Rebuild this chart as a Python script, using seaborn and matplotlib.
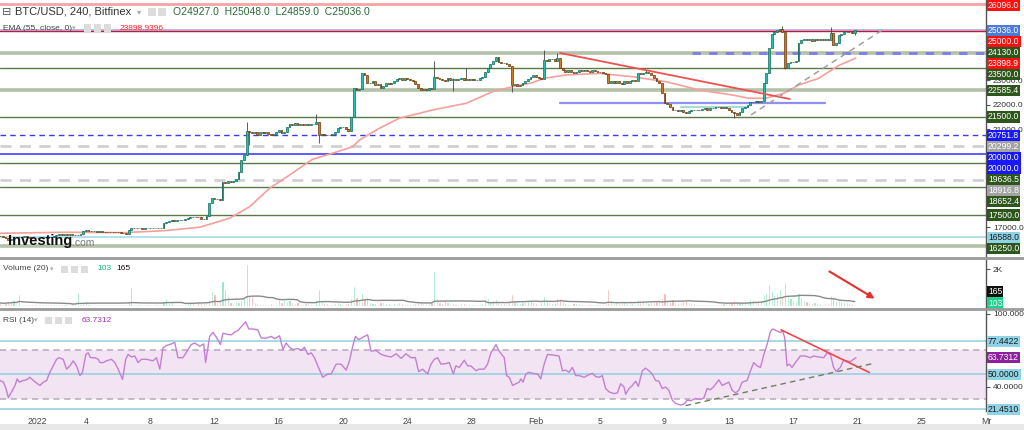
import numpy as np
import pandas as pd
import matplotlib
matplotlib.use("Agg")
import matplotlib.pyplot as plt
from matplotlib.patches import Rectangle, FancyArrowPatch
from matplotlib.lines import Line2D
from matplotlib.transforms import blended_transform_factory
import seaborn as sns

# ============================ DATA ============================
# x axis = days relative to 1 Jan (4-hour candles)
first_candle_day = -2.3333          # Dec 29, 16:00
first_open = 16650.0

closes = [
    16640, 16610,                                   # Dec 29
    16560, 16480, 16540, 16600, 16620, 16600,       # Dec 30
    16610, 16630, 16600, 16580, 16560, 16550,       # Dec 31
    16560, 16580, 16600, 16610, 16600, 16620,       # Jan 1
    16650, 16690, 16710, 16690, 16720, 16700,       # Jan 2
    16710, 16690, 16680, 16700, 16720, 16860,       # Jan 3
    16870, 16850, 16830, 16840, 16820, 16830,       # Jan 4
    16820, 16810, 16800, 16790, 16810, 16800,       # Jan 5
    16790, 16770, 16750, 16740, 16900, 16950,       # Jan 6
    16960, 16950, 16960, 16940, 16950, 16960,       # Jan 7
    16950, 16960, 16970, 16950, 16980, 17160,       # Jan 8
    17200, 17250, 17280, 17260, 17300, 17280,       # Jan 9
    17290, 17320, 17360, 17400, 17430, 17420,       # Jan 10
    17400, 17350, 17340, 17450, 17980, 18180,       # Jan 11
    18150, 18170, 18100, 18835, 18800, 18880,       # Jan 12
    18850, 18900, 18950, 19270, 19750, 19950,       # Jan 13
    20940, 20900, 20850, 20880, 20750, 20870,       # Jan 14
    20850, 20900, 20800, 20750, 20820, 20900,       # Jan 15
    20950, 20850, 20900, 21100, 21200, 21180,       # Jan 16
    21240, 21170, 21200, 21180, 21220, 21190,       # Jan 17
    21210, 21230, 21300, 20765, 20800, 20750,       # Jan 18
    20780, 20760, 20800, 20900, 21040, 21080,       # Jan 19
    21080, 21000, 20940, 21490, 22670, 22600,       # Jan 20
    22650, 23280, 23200, 22875, 22900, 22950,       # Jan 21
    22800, 22850, 22700, 22750, 22900, 22850,       # Jan 22
    22900, 22950, 23050, 23080, 23000, 23100,       # Jan 23
    23050, 23000, 22950, 22850, 22700, 22600,       # Jan 24
    22650, 22600, 22700, 22650, 23145, 23100,       # Jan 25
    23050, 23000, 22950, 23100, 23000, 23050,       # Jan 26
    23000, 23050, 23100, 23000, 23050, 23010,       # Jan 27
    23050, 23000, 23020, 23080, 23150, 23350,       # Jan 28
    23500, 23650, 23800, 23940, 23750, 23690,       # Jan 29
    23700, 23650, 23600, 22805, 22850, 22750,       # Jan 30
    22800, 22900, 22950, 23050, 23150, 23200,       # Jan 31
    23150, 23100, 23050, 23830, 23800, 23850,       # Feb 1
    23850, 23800, 23900, 23490, 23400, 23350,       # Feb 2
    23400, 23350, 23300, 23350, 23400, 23380,       # Feb 3
    23400, 23380, 23350, 23400, 23380, 23350,       # Feb 4
    23350, 23300, 23250, 22875, 22950, 22900,       # Feb 5
    22950, 22900, 22850, 22950, 22900, 22980,       # Feb 6
    23000, 22950, 23280, 23250, 23300, 23350,       # Feb 7
    23300, 23200, 23100, 22950, 22875, 22470,       # Feb 8
    22060, 22050, 21900, 21785, 21800, 21750,       # Feb 9
    21780, 21700, 21650, 21750, 21800, 21780,       # Feb 10
    21800, 21780, 21820, 21850, 21800, 21850,       # Feb 11
    21880, 21920, 21900, 21850, 21900, 21880,       # Feb 12
    21800, 21700, 21650, 21600, 21700, 21855,       # Feb 13
    21900, 22000, 22125, 22100, 22150, 22125,       # Feb 14
    22150, 22875, 23280, 24305, 24900, 24950,       # Feb 15
    25050, 25090, 24980, 23490, 23700, 23755,       # Feb 16
    23750, 23800, 24500, 24640, 24700, 24650,       # Feb 17
    24670, 24600, 24700, 24650, 24680, 24640,       # Feb 18
    24700, 24650, 24940, 24440, 24500, 24845,       # Feb 19
    24900, 24950, 24980, 24950, 24927, 25036,       # Feb 20
]

# notable wicks (candle index, low, high)
wick_index = [92, 93, 118, 119, 162, 169, 174, 191, 203, 208, 241, 274, 292, 293, 310, 319]
wick_low = [19950, 20360, 21210, 20450, 22650, 22570, 23000, 22530, 23050, 23850, 23300, 21450, 24980, 23450, 24650, 24859]
wick_high = [21310, 20940, 21620, 21300, 23800, 23100, 23490, 23600, 24235, 24100, 23420, 21700, 25215, 24980, 25185, 25048]

volumes = [
    150, 120,
    150, 200, 180, 310, 120, 630,
    120, 100, 90, 110, 80, 90,
    60, 70, 80, 90, 100, 80,
    120, 100, 90, 110, 100, 80,
    100, 110, 90, 740, 120, 150,
    280, 120, 100, 110, 90, 100,
    90, 80, 100, 120, 90, 80,
    100, 120, 90, 110, 300, 1050,
    100, 80, 70, 60, 80, 90,
    70, 60, 80, 90, 100, 250,
    400, 150, 270, 120, 100, 90,
    100, 120, 150, 130, 200, 120,
    270, 150, 130, 200, 350, 800,
    630, 200, 250, 1350, 920, 560,
    180, 150, 250, 200, 300, 500,
    2290, 560, 530, 200, 150, 120,
    100, 90, 120, 150, 100, 90,
    380, 200, 300, 250, 300, 200,
    150, 200, 120, 100, 150, 130,
    120, 100, 300, 900, 250, 150,
    130, 120, 100, 150, 200, 150,
    120, 150, 130, 400, 1100, 500,
    300, 700, 400, 500, 200, 150,
    150, 120, 200, 180, 150, 130,
    120, 150, 140, 200, 130, 120,
    100, 120, 130, 150, 200, 250,
    150, 120, 130, 200, 1900, 400,
    200, 150, 300, 200, 150, 130,
    120, 100, 150, 130, 120, 100,
    100, 90, 80, 100, 150, 300,
    400, 250, 300, 350, 200, 150,
    150, 120, 200, 650, 300, 200,
    150, 200, 180, 250, 300, 200,
    150, 120, 200, 550, 300, 200,
    150, 200, 450, 400, 250, 150,
    120, 100, 150, 130, 150, 120,
    100, 90, 80, 100, 90, 80,
    90, 100, 150, 900, 300, 150,
    200, 150, 130, 200, 150, 120,
    150, 120, 300, 200, 250, 200,
    150, 200, 180, 250, 300, 400,
    700, 300, 250, 350, 200, 150,
    200, 250, 300, 200, 150, 130,
    100, 90, 80, 100, 90, 80,
    90, 100, 120, 100, 150, 130,
    150, 200, 300, 250, 200, 180,
    200, 250, 350, 300, 250, 200,
    250, 600, 700, 1200, 800, 600,
    700, 900, 500, 1300, 600, 400,
    300, 250, 700, 500, 300, 250,
    200, 150, 180, 150, 160, 120,
    150, 130, 600, 550, 250, 300,
    250, 200, 180, 160, 165, 103,
]

ema_points = [(-2.34, 16755), (1.76, 16796), (5.42, 16780), (7.91, 16862), (10.08, 17000),
              (11.95, 17370), (13.19, 17840), (14.43, 18590), (15.67, 19130), (17.09, 19770),
              (18.78, 20110), (19.60, 20290), (20.02, 20560), (21.26, 21040), (22.50, 21450),
              (23.75, 21650), (24.55, 21785), (26.67, 22060), (28.28, 22530), (29.52, 22735),
              (30.77, 22900), (31.51, 23080), (32.88, 23215), (34.93, 23280), (37.00, 23145),
              (39.10, 22940), (41.15, 22600), (43.20, 22400), (44.24, 22265), (45.30, 22265),
              (46.42, 22470), (47.35, 22805), (48.59, 23080), (49.83, 23600), (50.89, 23899)]

rsi_points = [
    (-2.34, 45.1), (-2.13, 43.7), (-1.97, 38.4), (-1.82, 31.1), (-1.62, 35.7), (-1.41, 41.0),
    (-1.27, 46.4), (-1.14, 43.7), (-0.89, 45.1), (-0.69, 45.6), (-0.48, 47.7), (-0.27, 45.1),
    (-0.06, 42.9), (0.14, 41.0), (0.35, 43.7), (0.56, 45.1), (0.76, 51.8), (0.97, 57.1),
    (1.18, 62.5), (1.34, 63.8), (1.59, 62.5), (1.80, 54.4), (2.01, 57.1), (2.21, 61.2),
    (2.42, 57.1), (2.63, 49.1), (2.79, 51.8), (3.00, 66.5), (3.14, 67.8), (3.29, 63.8),
    (3.56, 63.8), (3.77, 62.5), (3.87, 59.8), (4.08, 59.8), (4.28, 61.2), (4.59, 62.5),
    (4.80, 59.8), (5.01, 54.4), (5.28, 45.9), (5.48, 62.5), (5.63, 66.5), (5.84, 64.4),
    (6.04, 65.2), (6.25, 59.8), (6.46, 62.5), (6.77, 62.5), (7.18, 61.2), (7.39, 63.8),
    (7.60, 54.4), (7.80, 71.9), (8.01, 73.8), (8.32, 75.1), (8.53, 76.4), (8.73, 63.8),
    (9.04, 63.8), (9.36, 70.5), (9.56, 74.6), (9.77, 75.9), (10.08, 73.2), (10.33, 75.1),
    (10.45, 59.8), (10.70, 81.3), (10.91, 84.7), (11.12, 80.5), (11.37, 74.6), (11.53, 83.9),
    (11.74, 83.1), (12.05, 82.6), (12.25, 84.7), (12.46, 86.1), (12.67, 89.3), (12.94, 93.3),
    (13.14, 87.4), (13.39, 87.4), (13.70, 86.6), (13.91, 79.9), (14.22, 79.9), (14.53, 81.3),
    (14.74, 79.4), (15.05, 81.8), (15.26, 70.5), (15.46, 75.9), (15.67, 72.4), (15.88, 70.5),
    (16.19, 71.3), (16.40, 69.7), (16.60, 72.4), (16.81, 66.5), (17.02, 67.8), (17.22, 63.8),
    (17.43, 57.1), (17.74, 47.7), (18.05, 50.4), (18.26, 50.4), (18.57, 58.5), (18.88, 58.5),
    (19.19, 53.6), (19.40, 61.2), (19.60, 73.2), (19.77, 81.3), (19.98, 78.6), (20.22, 80.5),
    (20.53, 82.6), (20.74, 69.2), (21.05, 69.7), (21.37, 66.5), (21.68, 65.2), (21.99, 64.4),
    (22.30, 67.0), (22.61, 63.3), (22.92, 67.0), (23.23, 63.8), (23.50, 63.8), (23.70, 52.3),
    (23.95, 54.4), (24.26, 50.4), (24.47, 58.5), (24.68, 62.5), (24.88, 63.8), (25.09, 58.5),
    (25.40, 59.0), (25.61, 59.8), (25.86, 50.4), (26.02, 57.1), (26.23, 55.8), (26.54, 61.7),
    (26.75, 57.1), (26.95, 57.1), (27.27, 53.1), (27.47, 54.4), (27.78, 54.4), (27.99, 58.5),
    (28.20, 67.8), (28.34, 70.5), (28.51, 74.6), (28.71, 69.2), (29.03, 63.8), (29.17, 49.1),
    (29.34, 47.7), (29.55, 41.0), (29.75, 42.4), (29.96, 43.7), (30.06, 46.4), (30.20, 43.7),
    (30.37, 50.4), (30.54, 51.8), (30.78, 51.0), (31.10, 50.4), (31.30, 46.4), (31.51, 58.5),
    (31.72, 66.5), (32.03, 66.0), (32.44, 65.2), (32.65, 53.1), (32.86, 53.6), (33.06, 51.8),
    (33.27, 55.8), (33.48, 49.1), (33.68, 49.1), (34.00, 47.7), (34.31, 49.9), (34.51, 51.0),
    (34.72, 48.3), (34.93, 47.7), (35.13, 49.1), (35.34, 38.4), (35.55, 35.7), (35.86, 34.3),
    (36.07, 34.9), (36.27, 42.4), (36.48, 39.7), (36.58, 33.8), (36.79, 38.4), (37.00, 41.0),
    (37.20, 44.5), (37.37, 40.2), (37.62, 53.1), (37.82, 55.2), (38.03, 53.1), (38.24, 50.4),
    (38.44, 45.1), (38.65, 44.5), (38.86, 38.4), (39.07, 39.7), (39.27, 37.0), (39.48, 29.0),
    (39.69, 26.3), (40.00, 24.9), (40.20, 25.5), (40.41, 29.0), (40.62, 28.4), (40.93, 30.3),
    (41.24, 29.5), (41.45, 30.8), (41.65, 38.4), (41.86, 37.5), (42.07, 40.2), (42.38, 45.6),
    (42.59, 41.0), (42.79, 42.4), (43.00, 43.7), (43.21, 37.0), (43.42, 34.9), (43.62, 37.0),
    (43.83, 43.7), (44.14, 45.1), (44.35, 53.1), (44.55, 59.8), (44.76, 57.1), (44.97, 55.8),
    (45.18, 66.5), (45.38, 74.6), (45.59, 85.3), (45.73, 87.4), (46.00, 85.8), (46.21, 84.5),
    (46.35, 85.8), (46.48, 79.9), (46.62, 57.1), (46.77, 58.5), (46.93, 55.8), (47.14, 59.8),
    (47.45, 65.2), (47.76, 65.2), (48.07, 63.8), (48.28, 65.2), (48.59, 64.4), (48.91, 63.8),
    (49.11, 67.8), (49.32, 66.5), (49.52, 55.8), (49.67, 52.6), (49.94, 55.8), (50.14, 61.7),
    (50.35, 61.2), (50.56, 60.6), (50.76, 62.5), (50.91, 63.73),
]

# horizontal price levels drawn across the chart
hline_values = [26096.0, 25036.0, 25000.0, 24130.0, 23500.0, 22585.4, 21500.0, 20751.8,
                20299.2, 20000.0, 19636.5, 18916.8, 18652.4, 17500.0, 16588.0, 16250.0]
# price scale labels (coloured boxes)
scale_label_values = [26096.0, 25036.0, 25000.0, 24130.0, 23898.9, 23500.0, 22585.4, 21500.0,
                      20751.8, 20299.2, 20000.0, 20000.0, 19636.5, 18916.8, 18652.4, 17500.0,
                      16588.0, 16250.0]
# plain price-scale numbers that remain visible between the boxes
price_ticks = [23000, 22000, 21000, 17000]
price_tick_marks = [16000, 17000, 18000, 19000, 20000, 21000, 22000, 23000, 24000, 25000, 26000]

# drawn trend objects (day, price)
resistance_line = [(32.5, 24112), (46.79, 22235)]
support_line = [(44.37, 21582), (52.75, 25133)]
range_line = [(32.5, 22084), (49.0, 22084)]
base_line = [(40.0, 21890), (44.2, 21890)]
dashed_level_start = 40.7          # dashed blue 24130 line starts here

rsi_levels = [77.4422, 50.0, 21.4510]
rsi_ticks = [40, 100]
rsi_tick_marks = [20, 40, 60, 80, 100]
rsi_resistance = [(46.25, 86.7), (51.74, 51.7)]
rsi_support = [(40.31, 24.4), (52.07, 59.3)]

date_tick_days = [0, 3, 7, 11, 15, 19, 23, 27, 31, 35, 39, 43, 47, 51, 55, 59]
date_tick_labels = ["2022", "4", "8", "12", "16", "20", "24", "28", "Feb", "5", "9", "13",
                    "17", "21", "25", "Mr"]

ohlc_text = ["O24927.0", "H25048.0", "L24859.0", "C25036.0"]
ema_last = "23898.9396"
rsi_last = "63.7312"
vol_last, vol_ma_last = "103", "165"

# ============================ STYLE / LAYOUT ============================
sns.set_style("white")
plt.rcParams["font.family"] = ["Liberation Sans", "DejaVu Sans"]

W, H = 1024, 430
fig = plt.figure(figsize=(W / 100, H / 100), dpi=100)
fig.patch.set_facecolor("white")


def rect(x0, y0, x1, y1):
    return [x0 / W, 1 - y1 / H, (x1 - x0) / W, (y1 - y0) / H]


PR = 986
ax = fig.add_axes(rect(0, 0, PR, 257))
axv = fig.add_axes(rect(0, 259, PR, 308))
axr = fig.add_axes(rect(0, 310, PR, 411))
XL = (-2.342, 59.0)
for a in (ax, axv, axr):
    a.set_facecolor("white")
    for s in a.spines.values():
        s.set_visible(False)
    a.spines["right"].set_visible(True)
    a.spines["right"].set_color("#555555")
    a.spines["right"].set_linewidth(1.0)
    a.yaxis.tick_right()
    a.tick_params(axis="y", length=3, width=0.8, color="#555555", labelsize=6.0,
                  labelcolor="#333333", pad=2)
ax.set_xticks([])
axv.set_xticks([])


def set_scale(a, marks, shown, fmt):
    a.set_yticks(marks)
    a.set_yticklabels([fmt.format(m) if m in shown else "" for m in marks])


# ---------------- main price panel ----------------
UP_FC, UP_EC = "#1fc4b0", "#136b57"
DN_FC, DN_EC = "#d8771b", "#6e370a"
n = len(closes)
assert len(volumes) == n
t = first_candle_day + np.arange(n) / 6.0
c = np.asarray(closes, float)
o = np.r_[first_open, c[:-1]]
up = c >= o
body_lo = np.minimum(o, c)
body_h = np.abs(c - o)
hi = np.maximum(o, c).copy()
lo = body_lo.copy()
for k, l, h in zip(wick_index, wick_low, wick_high):
    lo[k] = min(lo[k], l)
    hi[k] = max(hi[k], h)

ax.set_ylim(15786, 26275)
set_scale(ax, price_tick_marks, price_ticks, "{:.1f}")

hl_style = [("#f6a3a3", 2.0, "-"), ("#a9b0ee", 1.2, "-"), ("#c8192e", 1.0, "-"),
            ("#b5c0a9", 2.6, "-"), ("#5a7a48", 1.0, "-"), ("#b5c0a9", 2.6, "-"),
            ("#5a7a48", 1.0, "-"), ("#3b3bf6", 1.0, (0, (4, 3))), ("#d0d0d0", 2.0, (0, (4, 3))),
            ("#4141ff", 1.2, "-"), ("#5a7a48", 1.0, "-"), ("#d0d0d0", 2.0, (0, (4, 3))),
            ("#5a7a48", 1.0, "-"), ("#5a7a48", 1.0, "-"), ("#a6dbe6", 1.2, "-"),
            ("#b5c0a9", 2.6, "-")]
for v, (col, lw, ls) in zip(hline_values, hl_style):
    ax.axhline(v, color=col, lw=lw, ls=ls, zorder=1)
ax.hlines(24130.0, dashed_level_start, XL[1], color="#7d7de8", lw=2.0, ls=(0, (3, 3)), zorder=2)

(x0, y0), (x1, y1) = range_line
ax.plot([x0, x1], [y0, y1], color="#8f8ff2", lw=1.6, zorder=2)
(x0, y0), (x1, y1) = base_line
ax.plot([x0, x1], [y0, y1], color="#a6dcd3", lw=1.6, zorder=2)

ed, ev = zip(*ema_points)
sns.lineplot(x=list(ed), y=list(ev), ax=ax, color="#f5a09b", lw=1.2, zorder=3)

ax.vlines(t, lo, hi, color="#444444", lw=0.6, zorder=4)
bw = 0.68 / 6
ax.bar(t[up], body_h[up], bottom=body_lo[up], width=bw, color=UP_FC, edgecolor=UP_EC,
       linewidth=0.5, zorder=5)
ax.bar(t[~up], body_h[~up], bottom=body_lo[~up], width=bw, color=DN_FC, edgecolor=DN_EC,
       linewidth=0.5, zorder=5)

(x0, y0), (x1, y1) = resistance_line
ax.plot([x0, x1], [y0, y1], color="#f25050", lw=1.3, zorder=6)
(x0, y0), (x1, y1) = support_line
ax.plot([x0, x1], [y0, y1], color="#a0a0a0", lw=1.1, ls=(0, (4, 3)), zorder=6)

# ---------------- volume panel ----------------
vol = np.asarray(volumes, float)
axv.bar(t[up], vol[up], width=0.8 / 6, color="#7fe0b9", zorder=2)
axv.bar(t[~up], vol[~up], width=0.8 / 6, color="#f5aaaa", zorder=2)
vma = pd.Series(vol).rolling(20, min_periods=1).mean().values
sns.lineplot(x=t, y=vma, ax=axv, color="#8a8a8a", lw=1.0, zorder=3)
axv.set_ylim(-126, 2566)
axv.set_yticks([2000])
axv.set_yticklabels(["2K"])

# ---------------- RSI panel ----------------
axr.axhspan(30, 70, color="#f2e4f2", zorder=0, lw=0)
for lv in (70, 30):
    axr.axhline(lv, color="#b7a8b7", lw=1.1, ls=(0, (4, 3)), zorder=1)
for lv in rsi_levels:
    axr.axhline(lv, color="#8fd0df", lw=1.1, zorder=1)
rd, rv = zip(*rsi_points)
sns.lineplot(x=list(rd), y=list(rv), ax=axr, color="#c47fd4", lw=1.0, zorder=3)
(x0, y0), (x1, y1) = rsi_resistance
axr.plot([x0, x1], [y0, y1], color="#f04848", lw=1.2, zorder=4)
(x0, y0), (x1, y1) = rsi_support
axr.plot([x0, x1], [y0, y1], color="#6f7f60", lw=1.0, ls=(0, (4, 3)), zorder=4)
axr.set_ylim(20.1, 103.0)
set_scale(axr, rsi_tick_marks, rsi_ticks, "{:.4f}")
axr.set_xticks(date_tick_days)
axr.set_xticklabels(date_tick_labels)
axr.tick_params(axis="x", length=0, pad=4, labelsize=6.3, labelcolor="#444444")
for a in (ax, axv, axr):
    a.set_xlim(*XL)
    a.set_xlabel("")
    a.set_ylabel("")


# ---------------- scale labels (coloured boxes, pushed apart) ----------------
def scale_labels(a, vals, texts, bgs, fgs, push="down", gap=11.0, margin=5.5):
    tr = a.transData
    bb = a.get_window_extent()
    ys = np.array([tr.transform((0.0, v))[1] for v in vals])
    out = np.zeros_like(ys)
    if push == "down":
        cur = np.inf
        for k in sorted(range(len(vals)), key=lambda j: -ys[j]):
            y = min(ys[k], cur - gap, bb.y1 - margin)
            out[k] = y
            cur = y
    else:
        cur = -np.inf
        for k in sorted(range(len(vals)), key=lambda j: ys[j]):
            y = max(ys[k], cur + gap, bb.y0 + margin)
            out[k] = y
            cur = y
    inv = tr.inverted()
    bt = blended_transform_factory(a.transAxes, a.transData)
    for y, s, bg, fg in zip(out, texts, bgs, fgs):
        yd = inv.transform((0.0, y))[1]
        a.text(1.0 + 2.0 / PR, yd, s, transform=bt, ha="left", va="center", fontsize=6.2,
               color=fg, clip_on=False, zorder=10,
               bbox=dict(boxstyle="square,pad=0.12", fc=bg, ec="none"))


G, B, R, GR = "#2c561a", "#1818ff", "#ff1010", "#a3a3a3"
main_bg = [R, "#4a7bd9", R, G, R, G, G, G, B, GR, B, B, G, GR, G, G, "#8fd3e6", G]
main_fg = ["white"] * 16 + ["#1a1a1a", "white"]
scale_labels(ax, scale_label_values, [f"{v:.1f}" for v in scale_label_values], main_bg, main_fg)
scale_labels(axv, [float(vol_ma_last), float(vol_last)], [vol_ma_last, vol_last],
             ["#111111", "#1fd08d"], ["white", "white"], push="up", margin=5.0)
rsi_lab_vals = [rsi_levels[0], float(rsi_last), rsi_levels[1], rsi_levels[2]]
scale_labels(axr, rsi_lab_vals, [f"{v:.4f}" for v in rsi_lab_vals],
             ["#8fd3e6", "#8e1f9e", "#8fd3e6", "#8fd3e6"], ["#1a1a1a", "white", "#1a1a1a", "#1a1a1a"],
             margin=2.0)

# ---------------- panel separators, frame ----------------
for ysep in (258, 309):
    fig.add_artist(Line2D([0, 1], [1 - ysep / H] * 2, transform=fig.transFigure,
                          color="#9a9a9a", lw=2.0))
fig.add_artist(Rectangle((0, 0), 1, 6 / H, transform=fig.transFigure, color="#e8e8e8", lw=0))


# ---------------- header texts ----------------
def ftxt(x, y, s, **kw):
    fig.text(x / W, 1 - y / H, s, va="center", ha="left", **kw)


def icons(x, y, count, size=8, step=10):
    for i in range(count):
        fig.add_artist(Rectangle(((x + i * step) / W, 1 - (y + size / 2) / H), size / W, size / H,
                                 transform=fig.transFigure, color="#dcdcdc", lw=0))


ftxt(2, 12, "⊟", fontsize=8, color="#555555", family=["DejaVu Sans"])
ftxt(15, 12, "BTC/USD, 240, Bitfinex", fontsize=8, color="#333333")
ftxt(137, 12, "▾", fontsize=6, color="#aaaaaa", family=["DejaVu Sans"])
icons(148, 12, 2, size=8, step=10)
ftxt(173, 12, "  ".join(ohlc_text), fontsize=7.5, color="#2a6b39")

ftxt(3, 28, "EMA (55, close, 0)", fontsize=6, color="#444444")
ftxt(72, 28, "▾", fontsize=5, color="#aaaaaa", family=["DejaVu Sans"])
icons(84, 28, 3, size=7, step=10)
ftxt(120, 28, ema_last, fontsize=6, color="#ff2020")

ftxt(3, 269, "Volume (20)", fontsize=6, color="#444444")
ftxt(50, 269, "▾", fontsize=5, color="#aaaaaa", family=["DejaVu Sans"])
icons(61, 269, 3, size=7, step=10)
ftxt(97, 269, vol_last, fontsize=6, color="#17b877")
ftxt(116, 269, vol_ma_last, fontsize=6, color="#111111")

ftxt(3, 320, "RSI (14)", fontsize=6, color="#444444")
ftxt(34, 320, "▾", fontsize=5, color="#aaaaaa", family=["DejaVu Sans"])
icons(45, 320, 3, size=7, step=10)
ftxt(82, 320, rsi_last, fontsize=6, color="#a233b5")

# Investing.com watermark
ftxt(8, 241, "Investing", fontsize=10.5, fontweight="bold", color="#111111")
ftxt(72, 243, ".com", fontsize=7.5, color="#7a7a7a")

# red arrow in the volume panel
fig.add_artist(FancyArrowPatch(
    (827 / W, 1 - 270 / H), (877 / W, 1 - 300 / H), transform=fig.transFigure,
    arrowstyle="-|>", mutation_scale=9, color="#e53030", lw=1.5))

fig.savefig("out.png", dpi=100, facecolor="white")
